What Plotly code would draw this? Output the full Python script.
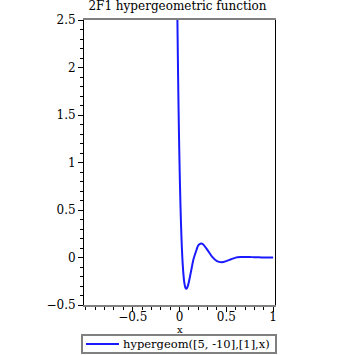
import plotly.graph_objects as go

# Values
x_vals = [-0.03, -0.025, -0.02, -0.015, -0.01, -0.005, 0.0, 0.005, 0.01, 0.015, 0.02,
          0.025, 0.03, 0.035, 0.04, 0.05, 0.06, 0.07, 0.08, 0.09, 0.10, 0.12, 0.15,
          0.175, 0.20, 0.23, 0.25, 0.30, 0.35, 0.40, 0.45, 0.50, 0.55, 0.60, 0.65,
          0.70, 0.75, 0.80, 0.85, 0.90, 0.95, 1.0]
y_vals = [3.23, 2.74, 2.31, 1.91, 1.57, 1.27, 1.0, 0.766, 0.564, 0.388, 0.239,
          0.112, 0.005, -0.083, -0.154, -0.255, -0.309, -0.329, -0.322, -0.296, -0.257, -0.161, -0.017,
          0.06, 0.128, 0.147, 0.140, 0.078, 0.006, -0.039, -0.050, -0.038, -0.019, -0.001, 0.005,
          0.006, 0.005, 0.003, 0.0015, 0.0005, 0.0001, 0.0]

x_ticks = [-0.5, 0, 0.5, 1]
y_ticks = [-0.5, 0, 0.5, 1, 1.5, 2, 2.5]
series_name = "hypergeom([5, -10],[1],x)"

font = "DejaVu Serif"
line_color = "#1a1aff"

fig = go.Figure()
fig.add_trace(go.Scatter(
    x=x_vals, y=y_vals, mode="lines",
    line=dict(color=line_color, width=2, shape="spline", smoothing=0.6),
    name=series_name, showlegend=False,
))

# legend box drawn below the plot (paper coordinates)
fig.add_shape(type="rect", xref="paper", yref="paper",
              x0=-0.0105, x1=1.0052, y0=-0.1684, y1=-0.1053,
              line=dict(color="#808080", width=2), fillcolor="white")
fig.add_shape(type="line", xref="paper", yref="paper",
              x0=0.0105, x1=0.1832, y0=-0.1368, y1=-0.1368,
              line=dict(color=line_color, width=2))
fig.add_annotation(text=series_name, xref="paper", yref="paper",
                   x=0.196, y=-0.1368, xanchor="left", yanchor="middle",
                   showarrow=False, font=dict(family=font, size=11.5, color="black"))
# x axis title
fig.add_annotation(text="x", xref="paper", yref="paper",
                   x=0.5, y=-0.086, xanchor="center", yanchor="middle",
                   showarrow=False, font=dict(family=font, size=10, color="black"))

fig.update_layout(
    width=355, height=355,
    margin=dict(l=84, r=80, t=20, b=50, autoexpand=False),
    paper_bgcolor="white", plot_bgcolor="white",
    title=dict(text="2F1 hypergeometric function", x=0.5, xanchor="center",
               yref="container", y=0.995, yanchor="top",
               font=dict(family=font, size=12, color="black")),
    font=dict(family=font, size=12, color="black"),
    showlegend=False,
)
fig.update_xaxes(
    range=[-1.02, 1.02], tickvals=x_ticks, ticktext=["\u22120.5", "0", "0.5", "1"],
    showgrid=False, zeroline=False, automargin=False,
    showline=True, linecolor="#808080", linewidth=2, mirror=True,
    ticks="outside", ticklen=5, tickcolor="black", tickwidth=1,
    minor=dict(dtick=0.1, tick0=0, ticks="outside", ticklen=3, tickcolor="black", tickwidth=1),
    tickfont=dict(family=font, size=12), ticklabelstandoff=-5,
)
fig.update_yaxes(
    range=[-0.5, 2.5], tickvals=y_ticks,
    ticktext=["\u22120.5", "0", "0.5", "1", "1.5", "2", "2.5"],
    showgrid=False, zeroline=False, automargin=False,
    showline=True, linecolor="black", linewidth=1, mirror=True,
    ticks="outside", ticklen=5, tickcolor="black", tickwidth=1,
    minor=dict(dtick=0.1, tick0=0, ticks="outside", ticklen=3, tickcolor="black", tickwidth=1),
    tickfont=dict(family=font, size=12),
)

fig.write_html("out.html", config={"displayModeBar": False},
               post_script="document.body.style.margin='0';document.body.style.padding='0';")
